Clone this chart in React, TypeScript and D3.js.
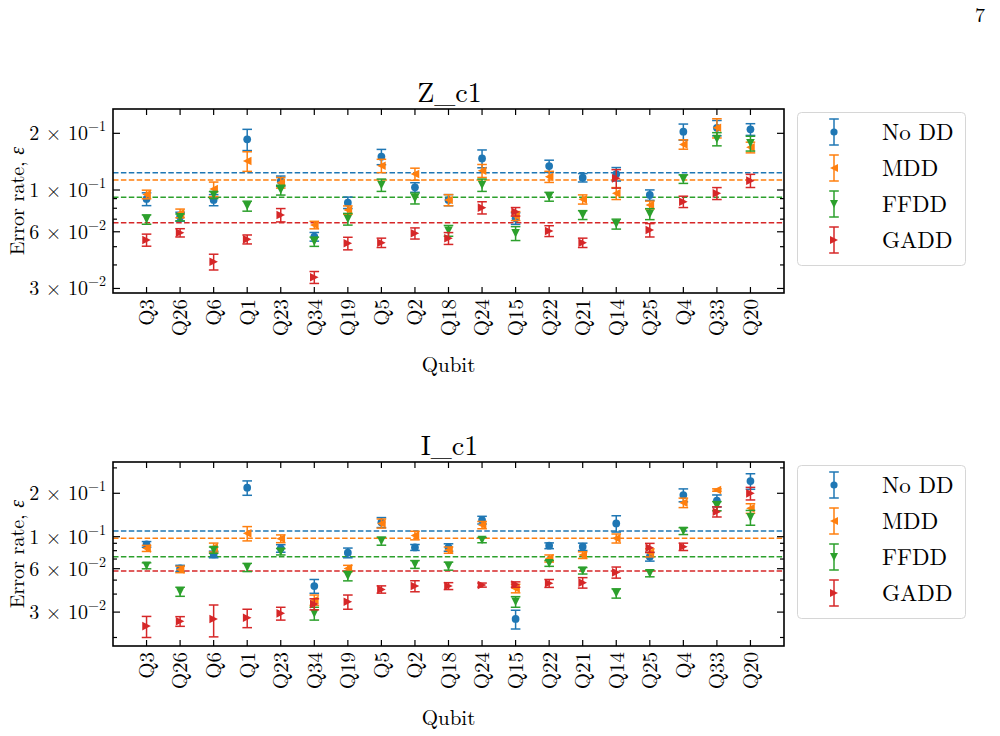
import React from 'react';
import * as d3 from 'd3';

const categories = ['Q3','Q26','Q6','Q1','Q23','Q34','Q19','Q5','Q2','Q18','Q24','Q15','Q22','Q21','Q14','Q25','Q4','Q33','Q20'];
const seriesNames = ['No DD', 'MDD', 'FFDD', 'GADD'];
const seriesColors = ['#1f77b4', '#ff7f0e', '#2ca02c', '#d62728'];
const seriesMarkers = ['circle', 'left', 'down', 'right'];

// Z_c1 panel
const zNoDD = [0.0896,0.0722,0.0885,0.186,0.1116,0.0565,0.0857,0.1503,0.1033,0.0885,0.1472,0.0707,0.134,0.1163,0.1216,0.0941,0.204,0.214,0.210];
const zNoDDErr = [0.007,0.004,0.006,0.024,0.007,0.003,0.006,0.014,0.006,0.006,0.016,0.005,0.01,0.006,0.01,0.006,0.02,0.02,0.015];
const zMDD = [0.0948,0.0752,0.1012,0.1426,0.1094,0.0652,0.0783,0.1346,0.1216,0.0885,0.1266,0.0728,0.1177,0.0892,0.096,0.0833,0.1747,0.214,0.1685];
const zMDDErr = [0.005,0.004,0.009,0.017,0.007,0.003,0.004,0.011,0.009,0.006,0.01,0.004,0.008,0.005,0.007,0.004,0.01,0.025,0.011];
const zFFDD = [0.0698,0.0716,0.0941,0.0822,0.100,0.0532,0.0701,0.1063,0.0903,0.0608,0.1063,0.0589,0.0922,0.0737,0.066,0.0746,0.1144,0.1866,0.177];
const zFFDDErr = [0.004,0.003,0.004,0.005,0.006,0.003,0.005,0.008,0.006,0.004,0.008,0.005,0.005,0.004,0.004,0.005,0.006,0.015,0.016];
const zGADD = [0.0543,0.0593,0.0416,0.0547,0.0737,0.0344,0.0521,0.0525,0.0589,0.0554,0.0806,0.0767,0.0606,0.0525,0.1153,0.0613,0.0867,0.096,0.1121];
const zGADDErr = [0.004,0.003,0.004,0.003,0.006,0.0025,0.004,0.003,0.004,0.004,0.006,0.004,0.004,0.003,0.013,0.005,0.006,0.007,0.009];
const zMeans = [0.1236, 0.1130, 0.0915, 0.0670];

// I_c1 panel
const iNoDD = [0.0885,0.0603,0.0754,0.2187,0.083,0.0455,0.0774,0.1257,0.0843,0.0843,0.1305,0.0269,0.0866,0.0852,0.1237,0.0727,0.1945,0.1777,0.2432];
const iNoDDErr = [0.004,0.003,0.004,0.025,0.005,0.005,0.006,0.01,0.004,0.005,0.008,0.004,0.004,0.005,0.016,0.005,0.02,0.017,0.03];
const iMDD = [0.083,0.0593,0.0843,0.1055,0.0969,0.0364,0.0603,0.1237,0.1021,0.0808,0.1205,0.0438,0.0707,0.0746,0.0974,0.0774,0.1721,0.2107,0.1572];
const iMDDErr = [0.004,0.003,0.006,0.012,0.006,0.003,0.003,0.009,0.007,0.004,0.007,0.003,0.004,0.004,0.007,0.005,0.013,0.004,0.012];
const iFFDD = [0.0629,0.0416,0.0808,0.0613,0.0787,0.0294,0.0534,0.0933,0.0643,0.0626,0.0948,0.0354,0.0653,0.0581,0.0405,0.0557,0.1095,0.1632,0.1361];
const iFFDDErr = [0.003,0.003,0.004,0.004,0.004,0.003,0.004,0.006,0.004,0.004,0.004,0.003,0.003,0.003,0.003,0.003,0.006,0.012,0.016];
const iGADD = [0.024,0.0259,0.0269,0.0274,0.0294,0.0341,0.0354,0.0431,0.0455,0.0455,0.0462,0.0466,0.0475,0.048,0.0566,0.0839,0.0852,0.149,0.1998];
const iGADDErr = [0.004,0.002,0.0067,0.004,0.003,0.003,0.004,0.0025,0.004,0.0025,0.0015,0.002,0.003,0.004,0.005,0.006,0.005,0.012,0.02];
const iMeans = [0.1095, 0.0975, 0.0727, 0.0578];

const yTickCandidates = [0.02,0.03,0.04,0.05,0.06,0.07,0.08,0.09,0.1,0.2,0.3];
const yTickLabels = [
  { v: 0.03, m: '3', e: '−2' },
  { v: 0.06, m: '6', e: '−2' },
  { v: 0.1, m: '1', e: '−1' },
  { v: 0.2, m: '2', e: '−1' },
];

const FONT = "'Latin Modern Roman','CMU Serif','Liberation Serif','Times New Roman',serif";

function Marker({ type, x, y, color, h = 4.3 }: any) {
  if (type === 'circle') return <circle cx={x} cy={y} r={h * 0.9} fill={color} />;
  let d = '';
  if (type === 'down') d = `M${x - h},${y - h}L${x + h},${y - h}L${x},${y + h}Z`;
  if (type === 'left') d = `M${x - h},${y}L${x + h},${y - h}L${x + h},${y + h}Z`;
  if (type === 'right') d = `M${x + h},${y}L${x - h},${y - h}L${x - h},${y + h}Z`;
  return <path d={d} fill={color} />;
}

function Panel({ top, bottom, domain, title, values, errors, means }: any) {
  const left = 113, right = 784;
  const x = d3.scaleLinear().domain([-1, categories.length]).range([left, right]);
  const y = d3.scaleLog().domain(domain).range([bottom, top]);
  const ticks = yTickCandidates.filter(v => v >= domain[0] && v <= domain[1]);
  const labelled = new Set(yTickLabels.map(t => t.v));
  const cap = 4.8;
  return (
    <g>
      <text x={(left + right) / 2 + 1} y={top - 7} textAnchor="middle" fontSize={28} fontFamily={FONT}>{title}</text>
      {means.map((m: number, si: number) => (
        <line key={'m' + si} x1={left} x2={right} y1={y(m)} y2={y(m)} stroke={seriesColors[si]} strokeWidth={1.5} strokeDasharray="5.5,2.4" />
      ))}
      {values.map((vals: number[], si: number) => (
        <g key={'s' + si}>
          {vals.map((v, ci) => {
            const e = errors[si][ci];
            const cx = x(ci);
            const y1 = y(v + e), y0 = y(v - e);
            return (
              <g key={ci}>
                <line x1={cx} x2={cx} y1={y1} y2={y0} stroke={seriesColors[si]} strokeWidth={1.5} />
                <line x1={cx - cap} x2={cx + cap} y1={y1} y2={y1} stroke={seriesColors[si]} strokeWidth={1.5} />
                <line x1={cx - cap} x2={cx + cap} y1={y0} y2={y0} stroke={seriesColors[si]} strokeWidth={1.5} />
                <Marker type={seriesMarkers[si]} x={cx} y={y(v)} color={seriesColors[si]} />
              </g>
            );
          })}
        </g>
      ))}
      {ticks.map(v => {
        const len = labelled.has(v) ? 7 : 4;
        return (
          <g key={'yt' + v}>
            <line x1={left} x2={left + len} y1={y(v)} y2={y(v)} stroke="#000" strokeWidth={1.2} />
            <line x1={right} x2={right - len} y1={y(v)} y2={y(v)} stroke="#000" strokeWidth={1.2} />
          </g>
        );
      })}
      {yTickLabels.filter(t => t.v >= domain[0] && t.v <= domain[1]).map(t => (
        <text key={'yl' + t.v} x={left - 7} y={y(t.v) + 7} textAnchor="end" fontSize={20} fontFamily={FONT}>
          {t.m} × 10<tspan dy={-9} fontSize={14}>{t.e}</tspan>
        </text>
      ))}
      {categories.map((c, ci) => (
        <g key={'xt' + c}>
          <line x1={x(ci)} x2={x(ci)} y1={bottom} y2={bottom - 6} stroke="#000" strokeWidth={1.2} />
          <line x1={x(ci)} x2={x(ci)} y1={top} y2={top + 6} stroke="#000" strokeWidth={1.2} />
          <text transform={`translate(${x(ci)},${bottom + 6}) rotate(-90)`} textAnchor="end" dy="0.35em" fontSize={21} fontFamily={FONT}>{c}</text>
        </g>
      ))}
      <rect x={left} y={top} width={right - left} height={bottom - top} fill="none" stroke="#000" strokeWidth={1.6} />
      <text x={(left + right) / 2} y={bottom + 79} textAnchor="middle" fontSize={21} fontFamily={FONT}>Qubit</text>
      <text transform={`translate(17,${(top + bottom) / 2}) rotate(-90)`} textAnchor="middle" dy="0.35em" fontSize={20} fontFamily={FONT}>
        Error rate, <tspan fontStyle="italic">ε</tspan>
      </text>
      <rect x={797.5} y={top + 3.5} width={168} height={153} rx={4} fill="#fff" fillOpacity={0.8} stroke="#d6d6d6" strokeWidth={1} />
      {seriesNames.map((n, si) => {
        const ly = top + 23 + 36 * si;
        const lx = 834;
        return (
          <g key={'lg' + n}>
            <line x1={lx} x2={lx} y1={ly - 13} y2={ly + 13} stroke={seriesColors[si]} strokeWidth={1.5} />
            <line x1={lx - cap} x2={lx + cap} y1={ly - 13} y2={ly - 13} stroke={seriesColors[si]} strokeWidth={1.5} />
            <line x1={lx - cap} x2={lx + cap} y1={ly + 13} y2={ly + 13} stroke={seriesColors[si]} strokeWidth={1.5} />
            <Marker type={seriesMarkers[si]} x={lx} y={ly} color={seriesColors[si]} h={4} />
            <text x={882} y={ly} dy="0.35em" fontSize={23} fontFamily={FONT}>{n}</text>
          </g>
        );
      })}
    </g>
  );
}

export default function App() {
  return (
    <svg width={1000} height={736} style={{ position: 'absolute', left: 0, top: 0, background: '#fff' }}>
      <rect width={1000} height={736} fill="#fff" />
      <text x={980} y={22} textAnchor="middle" fontSize={20} fontFamily={FONT}>7</text>
      <Panel top={109} bottom={293} domain={[0.02838, 0.2693]} title="Z_c1"
        values={[zNoDD, zMDD, zFFDD, zGADD]} errors={[zNoDDErr, zMDDErr, zFFDDErr, zGADDErr]} means={zMeans} />
      <Panel top={462} bottom={646} domain={[0.01746, 0.3296]} title="I_c1"
        values={[iNoDD, iMDD, iFFDD, iGADD]} errors={[iNoDDErr, iMDDErr, iFFDDErr, iGADDErr]} means={iMeans} />
    </svg>
  );
}
